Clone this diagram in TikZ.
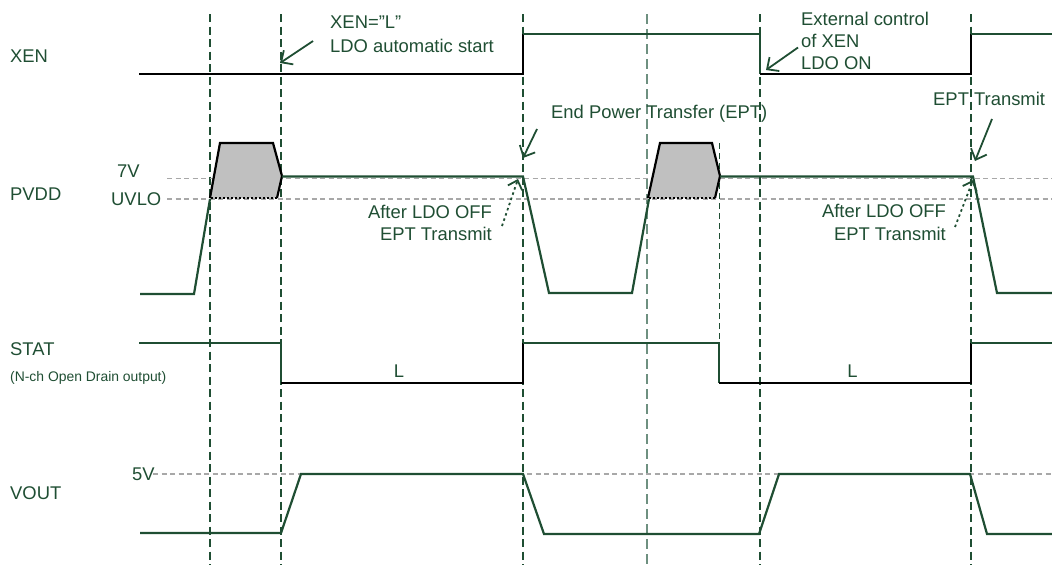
\documentclass[tikz,border=0pt]{standalone}
\usepackage{fontspec}
\setmainfont{Liberation Sans}
\usetikzlibrary{arrows.meta}
\definecolor{dg}{HTML}{1F4E33}
\definecolor{lg}{HTML}{6E9080}
\definecolor{lvlgrey}{HTML}{A8A8A8}
\definecolor{shade}{HTML}{C0C0C0}
\begin{document}
\begin{tikzpicture}[x=1pt,y=-1pt,
  lbl/.style={text=dg, inner sep=0pt, font=\fontsize{18.4}{22.5}\selectfont},
  small/.style={text=dg, inner sep=0pt, font=\fontsize{13.9}{16}\selectfont},
  sig/.style={draw=dg, line width=2.2pt, line join=miter},
  sigk/.style={draw=black, line width=2.2pt, line join=miter},
  vguide/.style={draw=dg, line width=1.1pt, dash pattern=on 8pt off 4.5pt},
  vguidelight/.style={draw=lg, line width=1.7pt, dash pattern=on 10pt off 5pt},
  vguidethin/.style={draw=dg, line width=0.9pt, dash pattern=on 6pt off 4pt},
  lvl/.style={draw=lvlgrey, line width=1.6pt, dash pattern=on 5pt off 3.5pt},
  callout/.style={draw=dg, line width=1.8pt, -{Straight Barb[length=9pt,width=17pt,line width=1.8pt]}},
  dcallout/.style={draw=dg, line width=1.8pt, dash pattern=on 2.5pt off 3pt, -{Straight Barb[length=8pt,width=15pt,line width=1.8pt]}},
  burst/.style={fill=shade},
  burstedge/.style={draw=black, line width=2.2pt, line join=miter},
  burstbase/.style={draw=black, line width=1.6pt, dash pattern=on 2pt off 2pt}
]
\useasboundingbox (0,0) rectangle (1052,565);

% vertical guide lines
\draw[vguide] (210,14) -- (210,565);
\draw[vguide] (281,14) -- (281,565);
\draw[vguide] (523,14) -- (523,565);
\draw[vguidelight] (647,14) -- (647,565);
\draw[vguidethin] (719,143) -- (719,383);
\draw[vguide] (760,14) -- (760,565);
\draw[vguide] (971,14) -- (971,565);

% level lines
\draw[lvl] (167,178.5) -- (1052,178.5);
\draw[lvl] (167,199) -- (1052,199);
\draw[lvl] (153,474) -- (1052,474);

% signal labels
\node[lbl, anchor=base west] (xen) at (10,62.4) {XEN};
\node[lbl, anchor=base west] (pvdd) at (10,200.6) {PVDD};
\node[lbl, anchor=base west] (stat) at (10,355.6) {STAT};
\node[small, anchor=base west] (statnote) at (10,381) {(N-ch Open Drain output)};
\node[lbl, anchor=base west] (vout) at (10,499) {VOUT};
\node[lbl, anchor=base west] (v7) at (117,177.6) {7V};
\node[lbl, anchor=base west] (uvlo) at (111,205.5) {UVLO};
\node[lbl, anchor=base west] (v5) at (132,480.6) {5V};

% XEN waveform
\draw[sigk] (139,74) -- (523,74) -- (523,34);
\draw[sig] (523,34) -- (760,34) -- (760,74);
\draw[sigk] (760,74) -- (971,74) -- (971,34);
\draw[sig] (971,34) -- (1052,34);

% PVDD bursts
\fill[burst] (210,198) -- (220,143) -- (273,143) -- (282,176) -- (277,198) -- cycle;
\draw[burstedge] (210,198) -- (220,143) -- (273,143) -- (282,176) -- (277,198);
\draw[burstbase] (277,198) -- (210,198);
\fill[burst] (648,198) -- (660,143) -- (712,143) -- (720,176) -- (715,198) -- cycle;
\draw[burstedge] (648,198) -- (660,143) -- (712,143) -- (720,176) -- (715,198);
\draw[burstbase] (715,198) -- (648,198);

% PVDD waveform
\draw[sig] (140,294) -- (194,294) -- (210,199);
\draw[sig] (282,176.5) -- (523,176.5) -- (549,293) -- (632,293) -- (649,199);
\draw[sig] (720,176.5) -- (973,176.5) -- (997,293) -- (1052,293);

% STAT waveform
\draw[sig] (139,343) -- (281,343) -- (281,383);
\draw[sigk] (281,383) -- (523,383) -- (523,343);
\draw[sig] (523,343) -- (719,343) -- (719,383);
\draw[sigk] (719,383) -- (971,383) -- (971,343);
\draw[sig] (971,343) -- (1052,343);
\node[lbl, anchor=base] (l1) at (399,377.6) {L};
\node[lbl, anchor=base] (l2) at (852.5,377.6) {L};

% VOUT waveform
\draw[sig] (140,533) -- (281,533) -- (301,474) -- (523,474) -- (544,534) -- (759,534) -- (779,474) -- (970,474) -- (987,534) -- (1052,534);

% annotations (multi-line nodes: base = last line's baseline)
\node[lbl, anchor=base west, align=left, font=\fontsize{18.4}{23.6}\selectfont] (xenl) at (330,52.2) {XEN=”L”\\LDO automatic start};
\node[lbl, anchor=base west, align=left, font=\fontsize{18.4}{22}\selectfont] (extc) at (801,69.4) {External control\\of XEN\\LDO ON};
\node[lbl, anchor=base west] (ept) at (551,118.5) {End Power Transfer (EPT)};
\node[lbl, anchor=base west] (eptt) at (933,105.5) {EPT Transmit};
\node[lbl, anchor=base east, align=right] (aft1) at (492,240.6) {After LDO OFF\\EPT Transmit};
\node[lbl, anchor=base east, align=right] (aft2) at (946,240) {After LDO OFF\\EPT Transmit};

\coordinate (xenl-s) at (313,41);
\coordinate (xenl-e) at (280,63);
\coordinate (extc-s) at (798,47.5);
\coordinate (extc-e) at (766,70);
\coordinate (ept-s) at (537,129);
\coordinate (ept-e) at (523,158);
\coordinate (eptt-s) at (992,119);
\coordinate (eptt-e) at (975,161);
\coordinate (aft1-s) at (502,226);
\coordinate (aft1-e) at (518,179);
\coordinate (aft2-s) at (955,227);
\coordinate (aft2-e) at (973,180);

\draw[callout] (xenl-s) -- (xenl-e);
\draw[callout] (extc-s) -- (extc-e);
\draw[callout] (ept-s) -- (ept-e);
\draw[callout] (eptt-s) -- (eptt-e);
\draw[dcallout] (aft1-s) -- (aft1-e);
\draw[dcallout] (aft2-s) -- (aft2-e);
\end{tikzpicture}
\end{document}
